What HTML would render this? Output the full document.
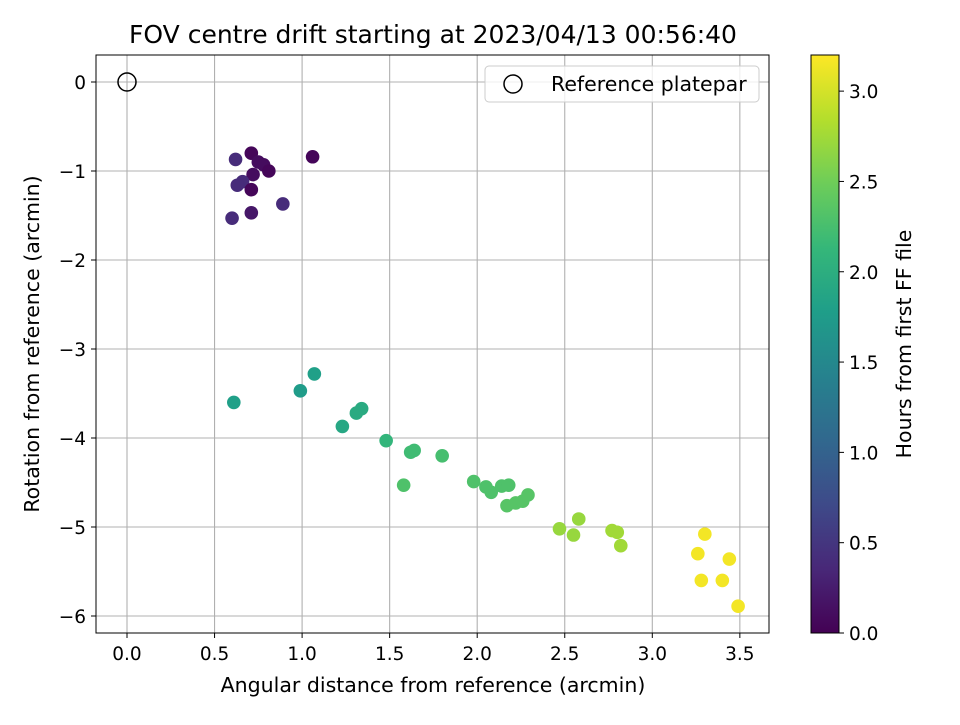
<!DOCTYPE html>
<html><head><meta charset="utf-8"><style>
body{margin:0;background:#fff}
svg text{font-family:"DejaVu Sans","Liberation Sans",sans-serif;fill:#000}
</style></head><body>
<svg id="c" width="960" height="720" xmlns="http://www.w3.org/2000/svg"></svg>
<script>
const xs=[0.71,0.62,1.06,0.75,0.78,0.81,0.72,0.66,0.63,0.71,0.89,0.71,0.60,
0.61,0.99,1.07,1.23,1.31,1.34,1.48,1.58,1.62,1.64,1.80,1.98,2.05,2.08,2.14,2.18,2.17,2.22,2.26,2.29,
2.47,2.55,2.58,2.77,2.80,2.82,3.30,3.26,3.44,3.28,3.40,3.49];
const ys=[-0.80,-0.87,-0.84,-0.90,-0.93,-1.00,-1.04,-1.12,-1.16,-1.21,-1.37,-1.47,-1.53,
-3.60,-3.47,-3.28,-3.87,-3.72,-3.67,-4.03,-4.53,-4.16,-4.14,-4.20,-4.49,-4.55,-4.61,-4.54,-4.53,-4.76,-4.73,-4.71,-4.64,
-5.02,-5.09,-4.91,-5.04,-5.06,-5.21,-5.08,-5.30,-5.36,-5.60,-5.60,-5.89];
const hours=[0.05,0.4,0.05,0.1,0.1,0.05,0.1,0.4,0.4,0.05,0.4,0.2,0.4,
1.8,1.75,1.8,1.9,1.95,1.95,2.1,2.3,2.2,2.2,2.25,2.3,2.3,2.3,2.3,2.3,2.35,2.35,2.35,2.35,
2.7,2.7,2.7,2.75,2.75,2.75,3.15,3.15,3.15,3.15,3.15,3.15];
const xTicks=[0,0.5,1,1.5,2,2.5,3,3.5];
const yTicks=[0,-1,-2,-3,-4,-5,-6];
const cTicks=[0,0.5,1,1.5,2,2.5,3];
const L=96,R=769,T=55,B=633;
const X=v=>127+v*175.1, Y=v=>82-v*89;
const cmax=3.2, CY=v=>633-v/cmax*(633-55);
const stops=[[68,1,84],[72,40,120],[62,74,137],[49,104,142],[38,130,142],[31,158,137],[53,183,121],[109,205,89],[180,222,44],[253,231,37]];
function vir(t){t=Math.max(0,Math.min(1,t))*(stops.length-1);const i=Math.min(Math.floor(t),stops.length-2),f=t-i;
return 'rgb('+stops[i].map((a,k)=>Math.round(a+(stops[i+1][k]-a)*f)).join(',')+')';}
const svg=document.getElementById('c');const NS='http://www.w3.org/2000/svg';
function el(tag,at,txt){const e=document.createElementNS(NS,tag);for(const k in at)e.setAttribute(k,at[k]);if(txt!=null)e.textContent=txt;svg.appendChild(e);return e;}
let e;
e=el('text',{x:433,y:43,'font-size':'25','text-anchor':'middle'},'FOV centre drift starting at 2023/04/13 00:56:40');


xTicks.forEach(v=>{
e=el('line',{x1:X(v),x2:X(v),y1:T,y2:B,stroke:'#b0b0b0','stroke-width':1.1});


el('line',{x1:X(v),x2:X(v),y1:B,y2:B+5,stroke:'#000'});
e=el('text',{x:X(v),y:B+27,'font-size':'18.5','text-anchor':'middle'},v.toFixed(1));


});
yTicks.forEach(v=>{
e=el('line',{x1:L,x2:R,y1:Y(v),y2:Y(v),stroke:'#b0b0b0','stroke-width':1.1});


el('line',{x1:L-5,x2:L,y1:Y(v),y2:Y(v),stroke:'#000'});
e=el('text',{x:L-10,y:Y(v)+7,'font-size':'18.5','text-anchor':'end'},v<0?'\u2212'+(-v):String(v));


});
xs.forEach((v,i)=>{
e=el('circle',{cx:X(v),cy:Y(ys[i]),r:6.8,fill:vir(hours[i]/cmax)});


});
e=el('circle',{cx:X(0),cy:Y(0),r:9,fill:'none',stroke:'#000','stroke-width':1.5});


e=el('rect',{x:L,y:T,width:R-L,height:B-T,fill:'none',stroke:'#000','stroke-width':1});


e=el('text',{x:433,y:692,'font-size':'20.5','text-anchor':'middle'},'Angular distance from reference (arcmin)');


e=el('text',{x:39,y:344,'font-size':'20.5','text-anchor':'middle',transform:'rotate(-90 39 344)'},'Rotation from reference (arcmin)');


e=el('rect',{x:485,y:66,width:274,height:36,rx:4,fill:'#fff','fill-opacity':0.8,stroke:'#ccc'});


e=el('circle',{cx:513,cy:84,r:9,fill:'none',stroke:'#000','stroke-width':1.5});


e=el('text',{x:551,y:91,'font-size':'20.5'},'Reference platepar');


const defs=el('defs',{});const g=document.createElementNS(NS,'linearGradient');
g.setAttribute('id','vg');g.setAttribute('x1','0');g.setAttribute('y1','1');g.setAttribute('x2','0');g.setAttribute('y2','0');
stops.forEach((s,i)=>{const st=document.createElementNS(NS,'stop');st.setAttribute('offset',i/(stops.length-1));st.setAttribute('stop-color','rgb('+s.join(',')+')');g.appendChild(st);});
defs.appendChild(g);
e=el('rect',{x:811,y:55,width:28,height:578,fill:'url(#vg)',stroke:'#000','stroke-width':1});


cTicks.forEach(v=>{
el('line',{x1:839,x2:844,y1:CY(v),y2:CY(v),stroke:'#000'});
e=el('text',{x:849,y:CY(v)+7,'font-size':'18.5'},v.toFixed(1));


});
e=el('text',{x:911,y:344,'font-size':'20.5','text-anchor':'middle',transform:'rotate(-90 911 344)'},'Hours from first FF file');


</script>
</body></html>
